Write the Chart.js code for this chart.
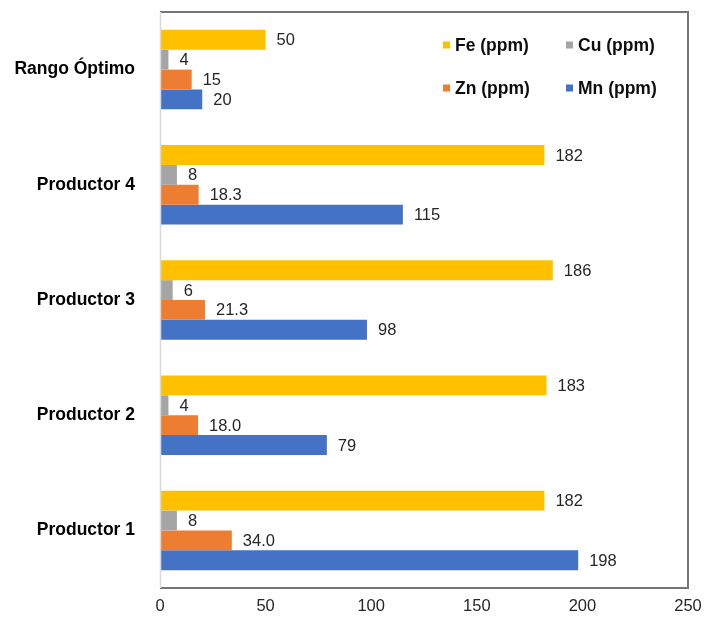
<!DOCTYPE html>
<html lang="es">
<head>
  <meta charset="UTF-8">
  <title>Micronutrientes por productor</title>
  <script src="https://cdn.jsdelivr.net/npm/chart.js"></script>
  <style>
    html, body { margin: 0; padding: 0; background: #fff; }
    #wrap { width: 707px; height: 623px; }
  </style>
</head>
<body>
<div id="wrap"><canvas id="grafico"></canvas></div>

<script>
// datos
const categorias = ['Rango Óptimo', 'Productor 4', 'Productor 3', 'Productor 2', 'Productor 1'];
const fe = [50, 182, 186, 183, 182];
const cu = [4, 8, 6, 4, 8];
const zn = [15, 18.3, 21.3, 18.0, 34.0];
const mn = [20, 115, 98, 79, 198];
// etiquetas tal como aparecen (Zn con un decimal)
const etiquetasFe = ['50', '182', '186', '183', '182'];
const etiquetasCu = ['4', '8', '6', '4', '8'];
const etiquetasZn = ['15', '18.3', '21.3', '18.0', '34.0'];
const etiquetasMn = ['20', '115', '98', '79', '198'];
const ticksX = [0, 50, 100, 150, 200, 250];

const colores = { fe: '#FFC000', cu: '#A5A5A5', zn: '#ED7D31', mn: '#4472C4' };

// valores al final de cada barra
const etiquetasPlugin = {
  id: 'etiquetas',
  afterDatasetsDraw(chart) {
    const ctx = chart.ctx;
    ctx.save();
    ctx.font = '16.5px "Liberation Sans", Arial, sans-serif';
    ctx.fillStyle = '#262626';
    ctx.textAlign = 'left';
    ctx.textBaseline = 'middle';
    chart.data.datasets.forEach((ds, i) => {
      chart.getDatasetMeta(i).data.forEach((bar, j) => {
        ctx.fillText(ds.etiquetas[j], bar.x + 11, bar.y + 1);
      });
    });
    ctx.restore();
  }
};

// marco del área de trazado y leyenda en dos columnas
const marcoPlugin = {
  id: 'marco',
  afterDraw(chart) {
    const { ctx, chartArea: a } = chart;
    ctx.save();
    ctx.strokeStyle = '#767676';
    ctx.lineWidth = 2;
    ctx.beginPath();
    ctx.moveTo(a.left, a.top);
    ctx.lineTo(a.right, a.top);
    ctx.lineTo(a.right, a.bottom);
    ctx.lineTo(a.left, a.bottom);
    ctx.stroke();
    ctx.strokeStyle = '#d9d9d9';
    ctx.lineWidth = 1.5;
    ctx.beginPath();
    ctx.moveTo(a.left + 0.5, a.top);
    ctx.lineTo(a.left + 0.5, a.bottom);
    ctx.stroke();

    const items = [
      { t: 'Fe (ppm)', c: colores.fe, x: 443, y: 45 },
      { t: 'Cu (ppm)', c: colores.cu, x: 566, y: 45 },
      { t: 'Zn (ppm)', c: colores.zn, x: 443, y: 88 },
      { t: 'Mn (ppm)', c: colores.mn, x: 566, y: 88 }
    ];
    ctx.font = 'bold 17.5px "Liberation Sans", Arial, sans-serif';
    ctx.textBaseline = 'middle';
    ctx.textAlign = 'left';
    items.forEach(it => {
      ctx.fillStyle = it.c;
      ctx.fillRect(it.x, it.y - 3.5, 7, 7);
      ctx.fillStyle = '#0d0d0d';
      ctx.fillText(it.t, it.x + 12, it.y + 1);
    });
    ctx.restore();
  }
};

new Chart(document.getElementById('grafico'), {
  type: 'bar',
  data: {
    labels: categorias,
    datasets: [
      { label: 'Fe (ppm)', data: fe, etiquetas: etiquetasFe, backgroundColor: colores.fe },
      { label: 'Cu (ppm)', data: cu, etiquetas: etiquetasCu, backgroundColor: colores.cu },
      { label: 'Zn (ppm)', data: zn, etiquetas: etiquetasZn, backgroundColor: colores.zn },
      { label: 'Mn (ppm)', data: mn, etiquetas: etiquetasMn, backgroundColor: colores.mn }
    ]
  },
  options: {
    indexAxis: 'y',
    responsive: true,
    maintainAspectRatio: false,
    animation: false,
    datasets: { bar: { categoryPercentage: 0.69, barPercentage: 1.0 } },
    layout: { padding: { top: 12, right: 19, bottom: 0, left: 0 } },
    plugins: {
      legend: { display: false },
      tooltip: { enabled: false }
    },
    scales: {
      x: {
        min: 0,
        max: 250,
        afterBuildTicks(scale) { scale.ticks = ticksX.map(v => ({ value: v })); },
        afterFit(scale) {
          scale.height = 35;
          scale.paddingLeft = 0;
          scale.paddingRight = 0;
        },
        grid: { display: false, drawTicks: false },
        border: { display: false },
        ticks: {
          padding: 9,
          color: '#262626',
          font: { family: '"Liberation Sans", Arial, sans-serif', size: 16.5 }
        }
      },
      y: {
        afterFit(scale) {
          scale.width = 160;
          scale.paddingTop = 0;
          scale.paddingBottom = 0;
        },
        grid: { display: false, drawTicks: false },
        border: { display: false },
        ticks: {
          padding: 25,
          color: '#000000',
          font: { family: '"Liberation Sans", Arial, sans-serif', size: 17.5, weight: 'bold' }
        }
      }
    }
  },
  plugins: [etiquetasPlugin, marcoPlugin]
});
</script>
</body>
</html>
